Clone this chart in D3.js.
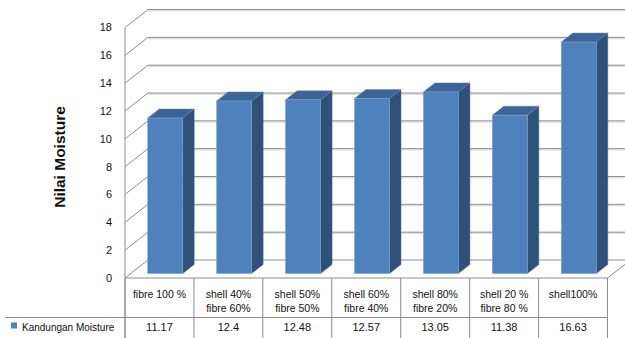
<!DOCTYPE html>
<html>
<head>
<meta charset="utf-8">
<script src="https://cdn.jsdelivr.net/npm/d3@7"></script>
<style>
  html, body { margin: 0; padding: 0; background: #fff; }
  svg { display: block; }
  text { font-family: "Liberation Sans", Arial, sans-serif; fill: #111; }
</style>
</head>
<body>
<svg id="chart" width="625" height="338"></svg>
<script>
// Moisture content per fuel mix
const categories = [
  ["fibre 100 %"],
  ["shell 40%", "fibre 60%"],
  ["shell 50%", "fibre 50%"],
  ["shell 60%", "fibre 40%"],
  ["shell 80%", "fibre 20%"],
  ["shell 20 %", "fibre 80 %"],
  ["shell100%"]
];
const valueLabels = ["11.17", "12.4", "12.48", "12.57", "13.05", "11.38", "16.63"];
const values = [11.17, 12.4, 12.48, 12.57, 13.05, 11.38, 16.63];
const yTicks = [0, 2, 4, 6, 8, 10, 12, 14, 16, 18];
const seriesName = "Kandungan Moisture";
const yTitle = "Nilai Moisture";

const svg = d3.select("#chart");

// Front plane of the 3D box and the depth offset to its back wall
const plotLeft = 125, plotRight = 607.5, plotBottom = 278, plotTop = 27.5;
const DX = 23, DY = -18;

const x = d3.scaleBand().domain(d3.range(categories.length)).range([plotLeft, plotRight]).paddingInner(0).paddingOuter(0);
const y = d3.scaleLinear().domain([0, 18]).range([plotBottom, plotTop]);

const proj = (px, v, z) => [px + z * DX, y(v) + z * DY];

const grid = svg.append("g");
const gridColor = "#8c8c8c", shadowColor = "#dcdcdc";

// Back wall gridlines (run off the right edge) and left wall diagonals
yTicks.forEach(t => {
  const [bx, by] = proj(plotLeft, t, 1);
  const [fx, fy] = proj(plotLeft, t, 0);
  const [ex] = proj(plotRight, t, 1);
  if (t > 0) {
    grid.append("line").attr("x1", bx).attr("x2", ex).attr("y1", by + 1.3).attr("y2", by + 1.3)
      .attr("stroke", shadowColor).attr("stroke-width", 1.2);
  }
  grid.append("line").attr("x1", bx).attr("x2", ex).attr("y1", by).attr("y2", by)
    .attr("stroke", gridColor).attr("stroke-width", 1);
  grid.append("line").attr("x1", fx).attr("y1", fy).attr("x2", bx).attr("y2", by)
    .attr("stroke", gridColor).attr("stroke-width", 1);
});
// Front vertical edge of the side wall
grid.append("line").attr("x1", plotLeft).attr("x2", plotLeft).attr("y1", y(18)).attr("y2", 338)
  .attr("stroke", gridColor);
// Floor right edge
{
  const [ax, ay] = proj(plotRight, 0, 0);
  const [bx, by] = proj(plotRight, 0, 1);
  grid.append("line").attr("x1", ax).attr("y1", ay).attr("x2", bx).attr("y2", by).attr("stroke", gridColor);
}

// Y tick labels
svg.append("g").selectAll("text").data(yTicks).join("text")
  .attr("x", plotLeft - 13).attr("y", d => y(d)).attr("dy", "0.36em")
  .attr("text-anchor", "end").attr("font-size", 11).text(d => d);

// Y title
svg.append("text")
  .attr("transform", `translate(65,157) rotate(-90)`)
  .attr("text-anchor", "middle").attr("font-size", 15.5).attr("font-weight", "bold")
  .text(yTitle);

// 3D bars
const barW = 35, z0 = 0.25, z1 = 0.75;
const bars = svg.append("g");
values.forEach((v, i) => {
  const xl = x(i) + (x.bandwidth() - barW) / 2;
  const xr = xl + barW;
  const p = (px, val, z) => proj(px, val, z).join(",");
  // side face
  bars.append("polygon")
    .attr("points", [p(xr, 0, z0), p(xr, v, z0), p(xr, v, z1), p(xr, 0, z1)].join(" "))
    .attr("fill", "#2f5179").attr("stroke", "#4a6e9c").attr("stroke-width", 0.5);
  // top face
  bars.append("polygon")
    .attr("points", [p(xl, v, z0), p(xr, v, z0), p(xr, v, z1), p(xl, v, z1)].join(" "))
    .attr("fill", "#3c6495").attr("stroke", "#5f85b5").attr("stroke-width", 0.5);
  // front face
  const [fx, fy] = proj(xl, v, z0);
  const [, fb] = proj(xl, 0, z0);
  bars.append("rect")
    .attr("x", fx).attr("y", fy).attr("width", barW).attr("height", fb - fy)
    .attr("fill", "#4f81bd").attr("stroke", "#7ea3cf").attr("stroke-width", 0.6);
});

// Data table under the plot
const table = svg.append("g");
const rowSplit = 317.5;
const tableColor = "#8c8c8c";
table.append("line").attr("x1", plotLeft).attr("x2", plotRight).attr("y1", plotBottom).attr("y2", plotBottom).attr("stroke", tableColor);
table.append("line").attr("x1", 5).attr("x2", plotRight).attr("y1", rowSplit).attr("y2", rowSplit).attr("stroke", tableColor);
d3.range(categories.length + 1).forEach(i => {
  const cx = i < categories.length ? x(i) : plotRight;
  table.append("line").attr("x1", cx).attr("x2", cx).attr("y1", plotBottom).attr("y2", 338).attr("stroke", tableColor);
});

categories.forEach((lines, i) => {
  const cx = x(i) + x.bandwidth() / 2;
  lines.forEach((ln, k) => {
    table.append("text").attr("x", cx).attr("y", 298 + k * 14)
      .attr("text-anchor", "middle").attr("font-size", 10.5).text(ln);
  });
  table.append("text").attr("x", cx).attr("y", 331)
    .attr("text-anchor", "middle").attr("font-size", 11).text(valueLabels[i]);
});

// Legend key in the table's first column
table.append("rect").attr("x", 11).attr("y", 322.5).attr("width", 6).attr("height", 6).attr("fill", "#4f81bd");
table.append("text").attr("x", 22).attr("y", 330.5).attr("font-size", 10).text(seriesName);
</script>
</body>
</html>
